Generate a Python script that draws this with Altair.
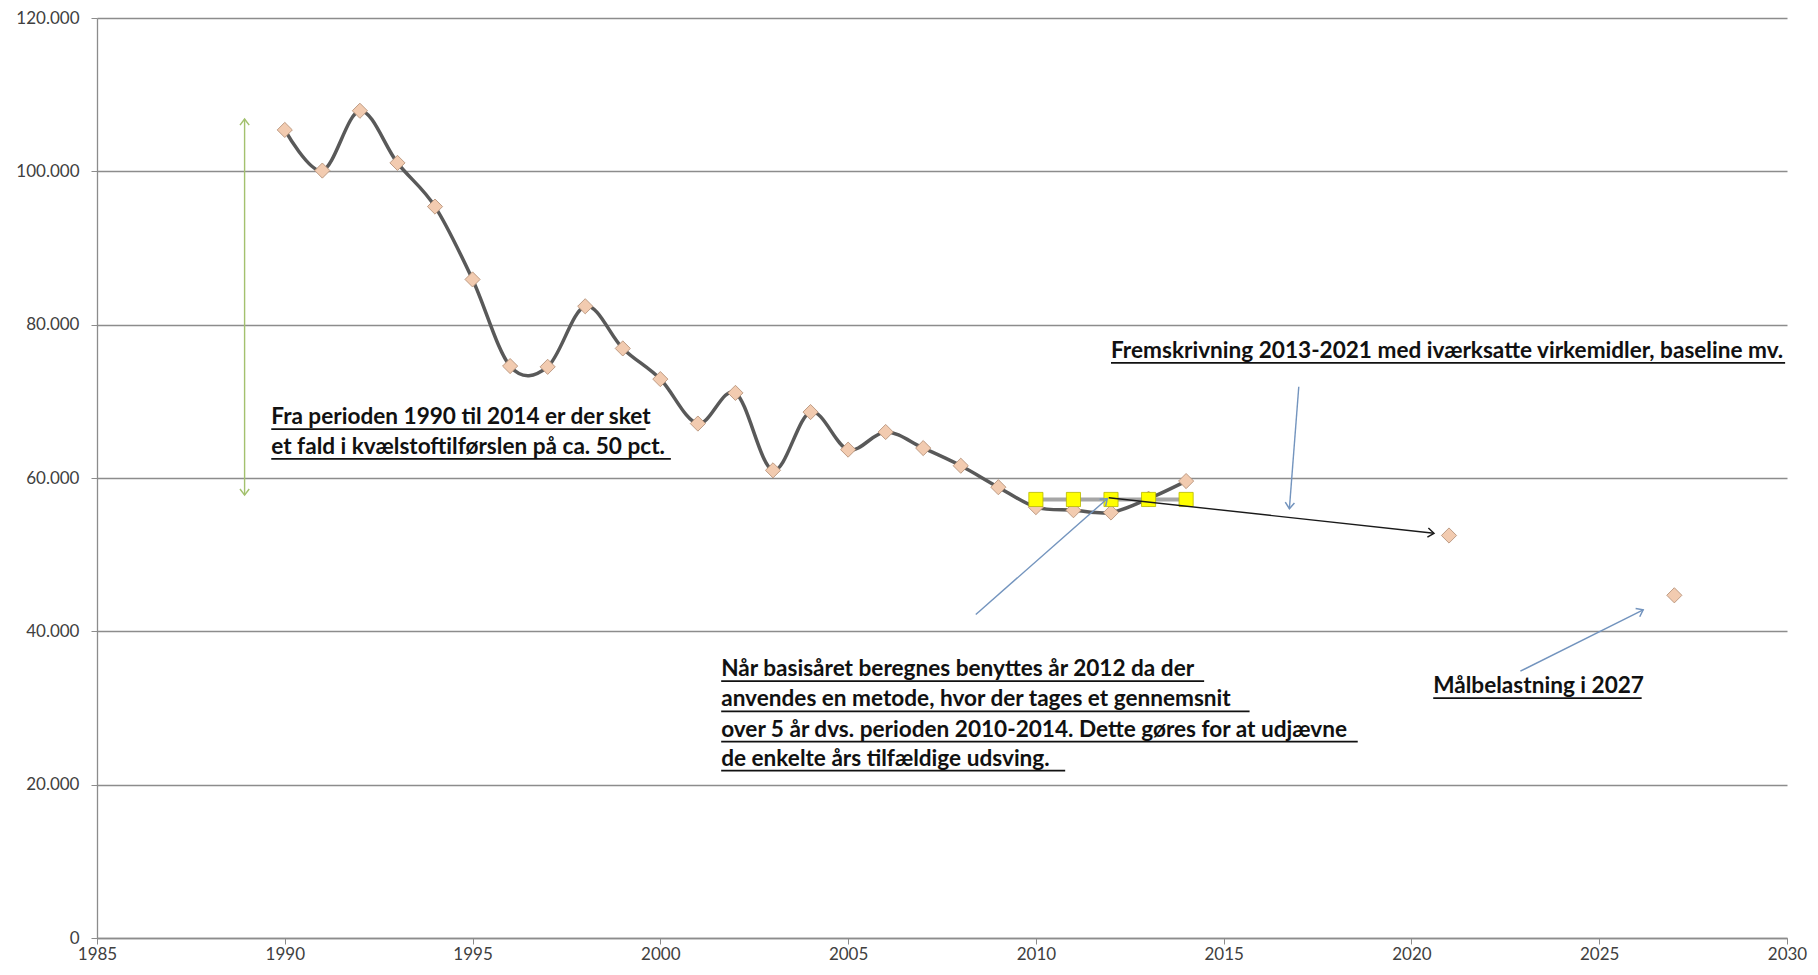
import math
import altair as alt
import pandas as pd

# ---- data ----
years = list(range(1990, 2015))
values = [105400, 100100, 107900, 101100, 95400, 85900, 74600, 74500, 82400, 76900,
          72900, 67100, 71100, 61000, 68600, 63700, 66000, 63900, 61600, 58800,
          56200, 55800, 55500, 57300, 59600]
proj_years = [2021, 2027]
proj_values = [52500, 44700]
base_years = [2010, 2011, 2012, 2013, 2014]
base_values = [57200, 57200, 57200, 57200, 57200]

x_ticks = [1985, 1990, 1995, 2000, 2005, 2010, 2015, 2020, 2025, 2030]
y_ticks = [0, 20000, 40000, 60000, 80000, 100000, 120000]

# annotation arrows: start (year, value) -> end (year, value)
arrow_x0 = [1988.93, 2017.00, 2008.40, 2022.90, 2011.94]
arrow_y0 = [57770, 71900, 42200, 34800, 57430]
arrow_x1 = [1988.93, 2016.75, 2011.90, 2026.17, 2020.60]
arrow_y1 = [106830, 56000, 57300, 42800, 52790]
arrow_col = ["#a3c16e", "#7394be", "#7394be", "#7394be", "#1a1a1a"]
arrow_both = [True, False, False, False, False]

# annotation text lines
text_lines = [
    "Fra perioden 1990 til 2014 er der sket",
    "et fald i kvælstoftilførslen på ca. 50 pct.",
    "Fremskrivning 2013-2021 med iværksatte virkemidler, baseline mv.",
    "Når basisåret beregnes benyttes år 2012 da der",
    "anvendes en metode, hvor der tages et gennemsnit",
    "over 5 år dvs. perioden 2010-2014. Dette gøres for at udjævne",
    "de enkelte års tilfældige udsving.",
    "Målbelastning i 2027",
]
text_x = [1989.64, 1989.64, 2012.0, 2001.62, 2001.62, 2001.62, 2001.62, 2020.58]
text_y = [67950, 64050, 76580, 35060, 31120, 27190, 23400, 32850]
underline_end = [1999.61, 2000.28, 2029.95, 2014.48, 2015.69, 2018.57, 2010.78, 2026.13]

# ---- scales ----
X_MIN, X_MAX = 1985, 2030
Y_MIN, Y_MAX = 0, 120000
W, H = 1690, 920
px_per_year = W / (X_MAX - X_MIN)
px_per_val = H / (Y_MAX - Y_MIN)

xscale = alt.Scale(domain=[X_MIN, X_MAX], nice=False, zero=False)
yscale = alt.Scale(domain=[Y_MIN, Y_MAX], nice=False)

label_color = "#404040"
axis_gray = "#8c8c8c"

xaxis = alt.Axis(values=x_ticks, format="d", grid=False, title=None, labelFlush=False,
                 tickSize=6, tickColor=axis_gray, domainColor=axis_gray, domainWidth=1.3,
                 labelFont="Lato", labelFontSize=17, labelColor=label_color, labelPadding=2)
yaxis = alt.Axis(values=y_ticks, grid=True, gridColor=axis_gray, gridWidth=1.3, title=None,
                 tickSize=6, tickColor=axis_gray, domainColor=axis_gray, domainWidth=1.3,
                 labelFont="Lato", labelFontSize=17, labelColor=label_color, labelPadding=12,
                 labelFlush=False,
                 labelExpr="replace(format(datum.value, ','), ',', '.')")


def X(field):
    return alt.X(field, type="quantitative", scale=xscale, axis=xaxis)


def Y(field):
    return alt.Y(field, type="quantitative", scale=yscale, axis=yaxis)


main_df = pd.DataFrame({"year": years, "value": values})
proj_df = pd.DataFrame({"year": proj_years, "value": proj_values})
base_df = pd.DataFrame({"year": base_years, "value": base_values})
diam_df = pd.concat([main_df, proj_df], ignore_index=True)

arrow_df = pd.DataFrame({"x0": arrow_x0, "y0": arrow_y0, "x1": arrow_x1, "y1": arrow_y1,
                         "col": arrow_col})

heads = []
for x0, y0, x1, y1, c, both in zip(arrow_x0, arrow_y0, arrow_x1, arrow_y1, arrow_col, arrow_both):
    dx = (x1 - x0) * px_per_year
    dy = -(y1 - y0) * px_per_val
    ang = math.degrees(math.atan2(dy, dx)) % 360
    heads.append({"x": x1, "y": y1, "angle": ang, "col": c})
    if both:
        heads.append({"x": x0, "y": y0, "angle": (ang + 180) % 360, "col": c})
head_df = pd.DataFrame(heads)

text_df = pd.DataFrame({"x": text_x, "y": text_y, "t": text_lines, "x2": underline_end})

main_line = alt.Chart(main_df).mark_line(
    interpolate="cardinal", color="#595959", strokeWidth=3.5
).encode(x=X("year"), y=Y("value"))

diamonds = alt.Chart(diam_df).mark_point(
    shape="diamond", filled=True, fill="#f2cbb0", stroke="#b8947c", strokeWidth=0.9,
    size=230, opacity=1
).encode(x=X("year"), y=Y("value"))

base_line = alt.Chart(base_df).mark_line(
    color="#a6a6a6", strokeWidth=4
).encode(x=X("year"), y=Y("value"))

base_pts = alt.Chart(base_df).mark_point(
    shape="square", filled=True, fill="#ffff00", stroke="#b8b800", strokeWidth=0.8,
    size=200, opacity=1
).encode(x=X("year"), y=Y("value"))

arrow_lines = alt.Chart(arrow_df).mark_rule(strokeWidth=1.4).encode(
    x=X("x0"), y=Y("y0"), x2=alt.X2("x1"), y2=alt.Y2("y1"),
    color=alt.Color("col:N", scale=None)
)

arrow_heads = alt.Chart(head_df).mark_point(
    shape="M -1 -0.75 L 0 0 L -1 0.75", filled=False, strokeWidth=1.5, size=150, opacity=1
).encode(
    x=X("x"), y=Y("y"),
    angle=alt.Angle("angle:Q", scale=None),
    color=alt.Color("col:N", scale=None)
)

texts = alt.Chart(text_df).mark_text(
    align="left", baseline="middle", font="Lato", fontWeight="bold", fontSize=22.6,
    color="#111111"
).encode(x=X("x"), y=Y("y"), text="t:N")

underlines = alt.Chart(text_df).mark_rule(
    yOffset=12, strokeWidth=1.7, color="#111111"
).encode(x=X("x"), x2=alt.X2("x2"), y=Y("y"))

chart = alt.layer(
    main_line, diamonds, base_line, base_pts, arrow_lines, arrow_heads, texts, underlines
).properties(
    width=W, height=H,
    autosize=alt.AutoSizeParams(type="none"),
    padding={"left": 89, "top": 10, "right": 23, "bottom": 27},
    background="white",
).configure_view(stroke=None)

chart.save("out.html", embed_options={"renderer": "svg", "actions": False})
